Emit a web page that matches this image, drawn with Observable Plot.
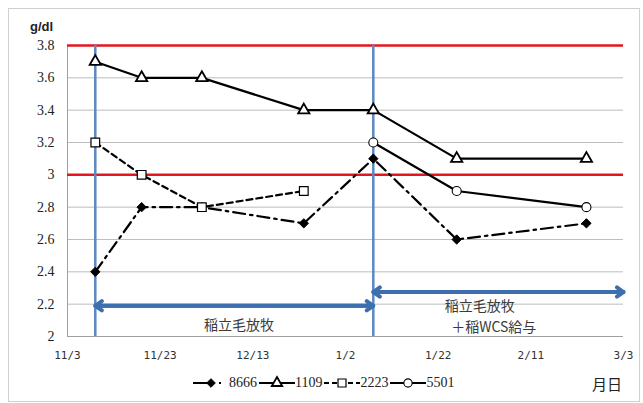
<!DOCTYPE html>
<html>
<head>
<meta charset="utf-8">
<script src="https://cdn.jsdelivr.net/npm/d3@7"></script>
<script src="https://cdn.jsdelivr.net/npm/@observablehq/plot@0.6"></script>
<style>
  body { margin: 0; background: #fff; }
  #wrap { position: relative; width: 643px; height: 403px; overflow: hidden; }
  #frame { position: absolute; left: 8px; top: 8px; width: 632px; height: 394px; border: 1px solid #d0d0d0; box-sizing: border-box; }
  #chart { position: absolute; left: 0; top: 0; }
  #unit { position: absolute; left: 30px; top: 19px; font: bold 13px "Liberation Sans", sans-serif; color: #222; }
  #xunit { position: absolute; left: 592px; top: 373px; font: 15px "Noto Sans CJK JP", sans-serif; color: #222; }
  #legend { position: absolute; left: 193px; top: 375px; display: flex; align-items: center; font: 14px "Liberation Serif", serif; color: #222; }
  #legend span { margin-right: 2px; }
  #legend svg { display: block; }
</style>
</head>
<body>
<div id="wrap">
  <div id="frame"></div>
  <div id="chart"></div>
  <div id="unit">g/dl</div>
  <div id="xunit">月日</div>
  <div id="legend"></div>
</div>
<script>
// Blood values (g/dl) per animal at each sampling date
const sampleDates = ["2012-11-09", "2012-11-19", "2012-12-02", "2012-12-24", "2013-01-08", "2013-01-26", "2013-02-23"];
const seriesNames = ["8666", "1109", "2223", "5501"];
const values8666 = [2.4, 2.8, 2.8, 2.7, 3.1, 2.6, 2.7];
const values1109 = [3.7, 3.6, 3.6, 3.4, 3.4, 3.1, 3.1];
const values2223 = [3.2, 3.0, 2.8, 2.9, null, null, null];
const values5501 = [null, null, null, null, 3.2, 2.9, 2.8];

// Axes
const xTicks = ["2012-11-03", "2012-11-23", "2012-12-13", "2013-01-02", "2013-01-22", "2013-02-11", "2013-03-03"];
const yTicks = [2, 2.2, 2.4, 2.6, 2.8, 3, 3.2, 3.4, 3.6, 3.8];

// Reference range limits
const limitLines = [3.8, 3.0];

// Feeding periods
const phaseStarts = ["2012-11-09", "2013-01-08"];
const phaseEnds = ["2013-01-08", "2013-03-03"];
const phaseArrowLevels = [2.19, 2.275];
const phaseTexts = ["稲立毛放牧", "稲立毛放牧", "＋稲WCS給与"];
const phaseTextDates = ["2012-12-10", "2013-01-31", "2013-02-03"];
const phaseTextLevels = [2.07, 2.185, 2.053];

const seriesValues = [values8666, values1109, values2223, values5501];
const date = (s) => new Date(s);
const xDomain = [date(xTicks[0]), date(xTicks[xTicks.length - 1])];
const yDomain = [yTicks[0], yTicks[yTicks.length - 1]];

const rows = sampleDates.flatMap((d, i) =>
  seriesNames.map((name, k) => ({date: date(d), name, value: seriesValues[k][i]}))
).filter((r) => r.value != null);

const diamond = d3.symbolDiamond2 || {
  draw(ctx, size) { const r = Math.sqrt(size) * 0.62625; ctx.moveTo(0, -r); ctx.lineTo(r, 0); ctx.lineTo(0, r); ctx.lineTo(-r, 0); ctx.closePath(); }
};

const styles = {
  "8666": {dash: "12,5,2.5,5", legendDash: "18,8,2,30", symbol: diamond, r: 4.2, fill: "#000", markerWidth: 1},
  "1109": {dash: null, legendDash: null, symbol: d3.symbolTriangle, r: 4.2, fill: "#fff", markerWidth: 1.8},
  "2223": {dash: "6,4", legendDash: "5,3", symbol: d3.symbolSquare, r: 4.9, fill: "#fff", markerWidth: 1.2},
  "5501": {dash: null, legendDash: null, symbol: d3.symbolCircle, r: 4.5, fill: "#fff", markerWidth: 1.1}
};

const arrows = phaseStarts.map((s, i) => ({from: date(s), to: date(phaseEnds[i]), level: phaseArrowLevels[i]}));
const notes = phaseTexts.map((t, i) => ({text: t, date: date(phaseTextDates[i]), level: phaseTextLevels[i]}));

const lineMarks = seriesNames.map((name) =>
  Plot.line(rows.filter((r) => r.name === name), {
    x: "date", y: "value", stroke: "#000", strokeWidth: 2.2,
    strokeDasharray: styles[name].dash ?? undefined
  })
);
const dotMarks = seriesNames.map((name) =>
  Plot.dot(rows.filter((r) => r.name === name), {
    x: "date", y: "value", symbol: styles[name].symbol, r: styles[name].r,
    fill: styles[name].fill, stroke: "#000", strokeWidth: styles[name].markerWidth
  })
);

const chart = Plot.plot({
  width: 643,
  height: 370,
  marginLeft: 67,
  marginRight: 20,
  marginTop: 45,
  marginBottom: 34,
  x: {type: "utc", domain: xDomain},
  y: {domain: yDomain},
  style: {background: "transparent", overflow: "visible"},
  marks: [
    Plot.gridY(yTicks, {stroke: "#bdbdbd", strokeOpacity: 1}),
    Plot.ruleX([xDomain[0]], {stroke: "#a0a0a0"}),
    Plot.ruleY([yDomain[0]], {stroke: "#a0a0a0"}),
    Plot.axisY(yTicks, {
      tickSize: 0, tickPadding: 13, tickFormat: (d) => String(d), label: null,
      fontFamily: "Liberation Serif", fontSize: 14, fill: "#222"
    }),
    Plot.axisX(xTicks.map(date), {
      tickSize: 0, tickPadding: 15, label: null,
      tickFormat: (d) => `${d.getUTCMonth() + 1}/${d.getUTCDate()}`,
      fontFamily: "DejaVu Sans Mono", fontSize: 11, fill: "#333"
    }),
    Plot.ruleY(limitLines, {stroke: "#e3161d", strokeWidth: 2.5}),
    Plot.ruleX(phaseStarts.map(date), {y1: yDomain[0], y2: yDomain[1], stroke: "#5b88c2", strokeWidth: 2.5}),
    Plot.arrow(arrows, {x1: "from", x2: "to", y1: "level", y2: "level", stroke: "#3d6fae", strokeWidth: 4, headLength: 3, headAngle: 70}),
    Plot.arrow(arrows, {x1: "to", x2: "from", y1: "level", y2: "level", stroke: "#3d6fae", strokeWidth: 4, headLength: 3, headAngle: 70}),
    Plot.text(notes, {x: "date", y: "level", text: "text", fontFamily: "Noto Sans CJK JP", fontSize: 14, fill: "#3a3a3a"}),
    ...lineMarks,
    ...dotMarks
  ]
});
document.getElementById("chart").appendChild(chart);

// Legend: line sample with marker, then series name
const legend = d3.select("#legend");
for (const name of seriesNames) {
  const st = styles[name];
  const svg = legend.append("svg").attr("width", 36).attr("height", 16);
  svg.append("line").attr("x1", 0).attr("x2", 36).attr("y1", 8).attr("y2", 8)
    .attr("stroke", "#000").attr("stroke-width", 2.2)
    .attr("stroke-dasharray", st.legendDash);
  svg.append("path").attr("transform", "translate(18,8)")
    .attr("d", d3.symbol(st.symbol, Math.PI * st.r * st.r * 0.85)())
    .attr("fill", st.fill).attr("stroke", "#000").attr("stroke-width", st.markerWidth);
  legend.append("span").text(name);
}
</script>
</body>
</html>
